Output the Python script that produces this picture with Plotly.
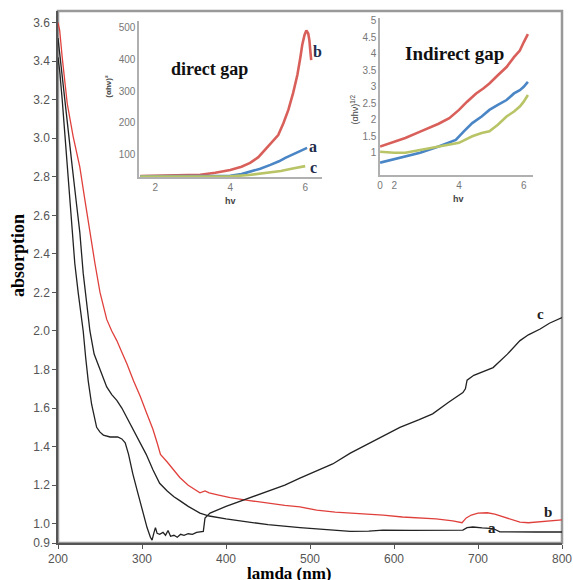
import plotly.graph_objects as go

# ---------------- main chart data (lamda nm, absorption) ----------------
b_pts = [(200, 3.60), (202, 3.56), (205, 3.42), (211, 3.18), (218, 3.01), (226, 2.85),
         (232, 2.68), (238, 2.51), (244, 2.35), (250, 2.20), (258, 2.06), (264, 2.00),
         (270, 1.95), (276, 1.89), (282, 1.83), (290, 1.74), (298, 1.66), (305, 1.58),
         (313, 1.49), (318, 1.42), (322, 1.36), (330, 1.32), (337, 1.28), (345, 1.24),
         (355, 1.20), (362, 1.18), (369, 1.16), (375, 1.17), (380, 1.16), (390, 1.15),
         (405, 1.135), (428, 1.12), (450, 1.105), (470, 1.095), (488, 1.087), (508, 1.07),
         (530, 1.06), (550, 1.055), (570, 1.05), (587, 1.045), (610, 1.035), (630, 1.03),
         (650, 1.025), (670, 1.015), (681, 1.005), (686, 1.03), (692, 1.045), (700, 1.055),
         (711, 1.057), (720, 1.05), (730, 1.035), (740, 1.02), (750, 1.008), (760, 1.005),
         (775, 1.01), (790, 1.018), (800, 1.02)]

a_pts = [(200, 3.52), (203, 3.40), (208, 3.20), (212, 3.02), (217, 2.85), (222, 2.66),
         (226, 2.51), (230, 2.30), (234, 2.16), (238, 2.00), (243, 1.88), (250, 1.80),
         (258, 1.71), (264, 1.67), (270, 1.64), (276, 1.60), (282, 1.55), (290, 1.48),
         (298, 1.42), (305, 1.36), (313, 1.28), (321, 1.21), (330, 1.17), (338, 1.14),
         (345, 1.12), (355, 1.09), (369, 1.055), (380, 1.04), (400, 1.025), (428, 1.01),
         (450, 0.995), (488, 0.98), (520, 0.97), (548, 0.96), (570, 0.962), (587, 0.967),
         (620, 0.966), (650, 0.966), (682, 0.967), (687, 0.98), (694, 0.983), (705, 0.978),
         (718, 0.975), (726, 0.958), (740, 0.957), (770, 0.957), (800, 0.957)]

c_pts = [(200, 3.42), (202, 3.35), (205, 3.20), (208, 3.02), (211, 2.85), (214, 2.68),
         (217, 2.51), (220, 2.35), (224, 2.20), (227, 2.10), (230, 2.00), (233, 1.86),
         (236, 1.74), (240, 1.62), (246, 1.50), (250, 1.475), (254, 1.46), (262, 1.45),
         (271, 1.45), (276, 1.44), (280, 1.42), (284, 1.36), (289, 1.26), (295, 1.16),
         (301, 1.055), (306, 0.98), (310, 0.93), (312, 0.915), (314, 0.95), (316, 0.98),
         (318, 0.95), (321, 0.945), (325, 0.955), (328, 0.94), (331, 0.965), (334, 0.935),
         (338, 0.94), (342, 0.93), (346, 0.945), (350, 0.94), (355, 0.948), (360, 0.945),
         (365, 0.955), (370, 0.957), (373, 0.96), (375, 1.03), (378, 1.045), (381, 1.055),
         (400, 1.09), (428, 1.135), (450, 1.17), (470, 1.20), (488, 1.237), (505, 1.27),
         (527, 1.31), (548, 1.366), (567, 1.41), (590, 1.46), (607, 1.50), (630, 1.54),
         (646, 1.57), (665, 1.63), (682, 1.68), (685, 1.70), (687, 1.745), (695, 1.77),
         (718, 1.81), (735, 1.88), (750, 1.95), (760, 1.98), (774, 2.01), (785, 2.04),
         (800, 2.07)]

main_yticks = [0.9, 1.0, 1.2, 1.4, 1.6, 1.8, 2.0, 2.2, 2.4, 2.6, 2.8, 3.0, 3.2, 3.4, 3.6]
main_xticks = [200, 300, 400, 500, 600, 700, 800]

# ---------------- inset 1: direct gap (hv, (ahv)^2) ----------------
d_b = [(1.6, 34), (2.5, 35), (3.2, 38), (3.6, 44), (4.0, 53), (4.3, 63), (4.53, 75),
       (4.75, 93), (4.93, 116), (5.1, 138), (5.28, 162), (5.42, 200), (5.55, 241),
       (5.68, 295), (5.79, 350), (5.87, 405), (5.92, 444), (5.98, 475), (6.03, 490),
       (6.08, 480), (6.11, 460), (6.14, 420), (6.16, 397)]
d_a = [(1.6, 33), (3.0, 33), (4.0, 35), (4.3, 40), (4.53, 47), (4.8, 57), (5.07, 69),
       (5.3, 80), (5.47, 91), (5.65, 100), (5.81, 109), (5.95, 117), (6.05, 122)]
d_c = [(1.6, 32), (3.0, 32), (4.0, 33), (4.5, 37), (4.8, 41), (5.07, 45), (5.35, 50),
       (5.6, 56), (5.8, 60), (6.0, 65)]
d_yticks = [100, 200, 300, 400, 500]
d_xticks = [2, 4, 6]

# ---------------- inset 2: indirect gap (hv, (ahv)^1/2) ----------------
i_b = [(1.56, 1.19), (2.0, 1.33), (2.34, 1.45), (2.8, 1.64), (3.37, 1.88), (3.7, 2.05),
       (4.0, 2.3), (4.25, 2.55), (4.53, 2.8), (4.75, 2.95), (4.94, 3.1), (5.2, 3.35),
       (5.47, 3.6), (5.7, 3.9), (5.88, 4.1), (6.0, 4.35), (6.13, 4.6)]
i_a = [(1.56, 0.70), (2.0, 0.8), (2.34, 0.88), (2.8, 1.0), (3.37, 1.19), (3.9, 1.39),
       (4.15, 1.65), (4.41, 1.9), (4.7, 2.1), (4.94, 2.3), (5.2, 2.45), (5.47, 2.6),
       (5.7, 2.8), (5.88, 2.9), (6.0, 3.0), (6.13, 3.15)]
i_c = [(1.56, 1.03), (2.0, 1.0), (2.34, 1.0), (2.8, 1.08), (3.37, 1.19), (3.7, 1.25),
       (4.0, 1.3), (4.2, 1.4), (4.41, 1.5), (4.7, 1.6), (4.94, 1.65), (5.2, 1.85),
       (5.47, 2.1), (5.7, 2.25), (5.88, 2.4), (6.0, 2.55), (6.13, 2.75)]
i_yticks = [1, 1.5, 2, 2.5, 3, 3.5, 4, 4.5, 5]
i_xtickvals = [1.56, 2, 4, 6]
i_xticktext = ["0", "2", "4", "6"]

RED_MAIN = "#e0403c"
BLACK = "#222222"
RED_IN = "#d9605a"
BLUE_IN = "#4a86c5"
GREEN_IN = "#b9c466"
LABEL_IN = "#1f2d4d"
SERIF = "Liberation Serif, DejaVu Serif, serif"
SANS = "Liberation Sans, Arial, sans-serif"


def xy(pts):
    return [p[0] for p in pts], [p[1] for p in pts]


fig = go.Figure()

for pts, col in [(b_pts, RED_MAIN), (a_pts, BLACK), (c_pts, BLACK)]:
    x, y = xy(pts)
    fig.add_trace(go.Scatter(x=x, y=y, mode="lines", line=dict(color=col, width=1.3),
                             xaxis="x", yaxis="y", showlegend=False, hoverinfo="skip"))

for pts, col in [(d_b, RED_IN), (d_a, BLUE_IN), (d_c, GREEN_IN)]:
    x, y = xy(pts)
    fig.add_trace(go.Scatter(x=x, y=y, mode="lines", line=dict(color=col, width=2.6),
                             xaxis="x2", yaxis="y2", showlegend=False, hoverinfo="skip"))

for pts, col in [(i_b, RED_IN), (i_a, BLUE_IN), (i_c, GREEN_IN)]:
    x, y = xy(pts)
    fig.add_trace(go.Scatter(x=x, y=y, mode="lines", line=dict(color=col, width=2.6),
                             xaxis="x3", yaxis="y3", showlegend=False, hoverinfo="skip"))

tickfont_main = dict(family=SANS, size=12, color="#555555")
tickfont_in = dict(family=SANS, size=10, color="#777777")

fig.update_layout(
    width=573, height=580, autosize=False,
    margin=dict(l=58, r=11, t=11, b=37, autoexpand=False),
    paper_bgcolor="white", plot_bgcolor="white",
    xaxis=dict(range=[200, 800], tickvals=main_xticks, showgrid=False, zeroline=False,
               showline=True, linecolor="#555555", linewidth=1.5, mirror=False,
               ticks="outside", ticklen=4, tickcolor="#555555", tickfont=tickfont_main,
               anchor="y", automargin=False),
    yaxis=dict(range=[0.9, 3.66], tickvals=main_yticks, tickformat=".1f", showgrid=False,
               zeroline=False, showline=True, linecolor="#555555", linewidth=1.5,
               ticks="outside", ticklen=4, tickcolor="#555555", tickfont=tickfont_main,
               anchor="x", automargin=False),
    xaxis2=dict(domain=[0.161, 0.524], range=[1.57, 6.45], tickvals=d_xticks,
                showgrid=False, zeroline=False, showline=True, linecolor="#b0b0b0",
                linewidth=1.5, ticks="", tickfont=tickfont_in, anchor="y2"),
    yaxis2=dict(domain=[0.688, 0.981], range=[31, 519], tickvals=d_yticks,
                showgrid=False, zeroline=False, showline=True, linecolor="#b0b0b0",
                linewidth=1.5, ticks="", tickfont=tickfont_in, anchor="x2"),
    xaxis3=dict(domain=[0.639, 0.942], range=[1.56, 6.28], tickvals=i_xtickvals,
                ticktext=i_xticktext, showgrid=False, zeroline=False, showline=True,
                linecolor="#b0b0b0", linewidth=1.5, ticks="", tickfont=tickfont_in,
                anchor="y3"),
    yaxis3=dict(domain=[0.692, 0.987], range=[0.33, 5.09], tickvals=i_yticks,
                showgrid=False, zeroline=False, showline=True, linecolor="#b0b0b0",
                linewidth=1.5, ticks="", tickfont=tickfont_in, anchor="x3"),
)

# outer frame (top / right border in grey)
fig.add_shape(type="rect", xref="paper", yref="paper", x0=0, x1=1, y0=0, y1=1,
              line=dict(color="#999999", width=2.5), layer="below")

ann = []
# main axis titles
ann.append(dict(text="<b>absorption</b>", xref="paper", yref="paper", x=-0.079, y=0.54,
                textangle=-90, showarrow=False,
                font=dict(family=SERIF, size=18, color="black"), xanchor="center",
                yanchor="middle"))
ann.append(dict(text="<b>lamda (nm)</b>", xref="paper", yref="paper", x=0.46, y=-0.058,
                showarrow=False, font=dict(family=SERIF, size=17, color="black"),
                xanchor="center", yanchor="middle"))
# main curve labels
for t, xv, yv in [("c", 774, 2.09), ("b", 783, 1.06), ("a", 717, 0.98)]:
    ann.append(dict(text="<b>%s</b>" % t, x=xv, y=yv, xref="x", yref="y", showarrow=False,
                    font=dict(family=SERIF, size=15, color=BLACK)))
# inset 1 texts
ann.append(dict(text="<b>direct gap</b>", x=3.45, y=370, xref="x2", yref="y2",
                showarrow=False, font=dict(family=SERIF, size=18, color="#111111")))
for t, xv, yv in [("b", 6.33, 425), ("a", 6.22, 127), ("c", 6.22, 62)]:
    ann.append(dict(text="<b>%s</b>" % t, x=xv, y=yv, xref="x2", yref="y2", showarrow=False,
                    font=dict(family=SERIF, size=16, color=LABEL_IN)))
ann.append(dict(text="<b>hv</b>", x=4.0, y=-0.2, xref="x2", yref="y2 domain",
                showarrow=False, font=dict(family=SANS, size=9, color="#444444")))
ann.append(dict(text="<b>(αhν)²</b>", x=-0.2, y=0.58, xref="x2 domain", yref="y2 domain",
                textangle=-90, showarrow=False,
                font=dict(family=SANS, size=8, color="#444444")))
# inset 2 texts
ann.append(dict(text="<b>Indirect gap</b>", x=3.85, y=4.0, xref="x3", yref="y3",
                showarrow=False, font=dict(family=SERIF, size=19, color="#111111")))
for t, xv, yv in [("b", 6.3, 4.42), ("a", 6.3, 3.22), ("c", 6.3, 2.72)]:
    ann.append(dict(text="<b>%s</b>" % t, x=xv, y=yv, xref="x3", yref="y3", showarrow=False,
                    font=dict(family=SERIF, size=16, color=LABEL_IN)))
ann.append(dict(text="<b>hv</b>", x=4.0, y=-0.2, xref="x3", yref="y3 domain",
                showarrow=False, font=dict(family=SANS, size=9, color="#444444")))
ann.append(dict(text="(αhν)<sup>1/2</sup>", x=-0.22, y=0.42, xref="x3 domain",
                yref="y3 domain", textangle=-90, showarrow=False,
                font=dict(family=SANS, size=9, color="#444444")))

fig.update_layout(annotations=ann)

fig.write_html(
    "out.html",
    config={"displayModeBar": False, "responsive": False},
    post_script=("document.documentElement.style.overflow='hidden';"
                 "document.body.style.overflow='hidden';"
                 "document.body.style.margin='0';"),
)
